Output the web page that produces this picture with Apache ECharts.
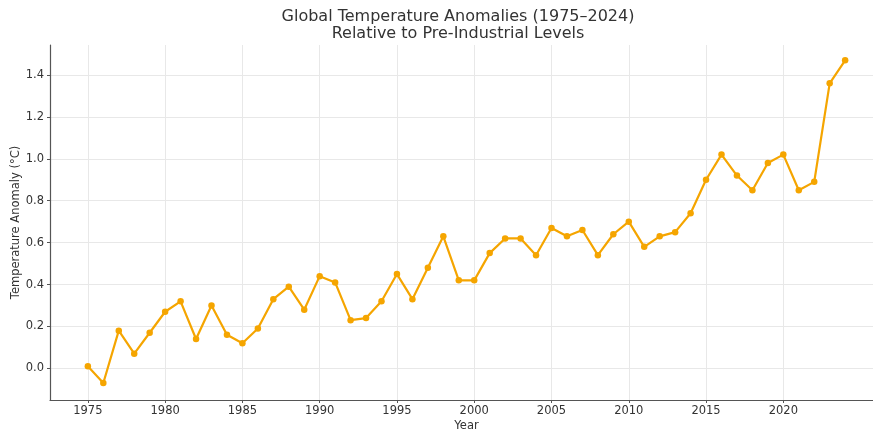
<!DOCTYPE html>
<html>
<head>
<meta charset="utf-8">
<script src="https://cdn.jsdelivr.net/npm/echarts@6/dist/echarts.min.js"></script>
<style>html,body{margin:0;padding:0;background:#fff}#c{width:873px;height:434px}</style>
</head>
<body>
<div id="c"></div>
<script>
const years = [1975,1976,1977,1978,1979,1980,1981,1982,1983,1984,1985,1986,1987,1988,1989,1990,1991,1992,1993,1994,1995,1996,1997,1998,1999,2000,2001,2002,2003,2004,2005,2006,2007,2008,2009,2010,2011,2012,2013,2014,2015,2016,2017,2018,2019,2020,2021,2022,2023,2024];
const anomalies = [0.01,-0.07,0.18,0.07,0.17,0.27,0.32,0.14,0.30,0.16,0.12,0.19,0.33,0.39,0.28,0.44,0.41,0.23,0.24,0.32,0.45,0.33,0.48,0.63,0.42,0.42,0.55,0.62,0.62,0.54,0.67,0.63,0.66,0.54,0.64,0.70,0.58,0.63,0.65,0.74,0.90,1.02,0.92,0.85,0.98,1.02,0.85,0.89,1.36,1.47];
const xTicks = [1975,1980,1985,1990,1995,2000,2005,2010,2015,2020];
const yTicks = [0,0.2,0.4,0.6,0.8,1.0,1.2,1.4];

const chart = echarts.init(document.getElementById('c'));
const font = 'DejaVu Sans';
chart.setOption({
  animation: false,
  title: {
    text: 'Global Temperature Anomalies (1975\u20132024)\nRelative to Pre-Industrial Levels',
    left: 453, top: 3, textAlign: 'center',
    textStyle: {fontFamily: font, fontSize: 16, fontWeight: 'normal', color: '#333', lineHeight: 17}
  },
  grid: {left: 50, right: -10, top: 45, bottom: 34, outerBoundsMode: 'none', containLabel: false},
  xAxis: {
    type: 'value', min: 1972.55, max: 2026.45,
    name: 'Year', nameLocation: 'middle', nameGap: 20, nameMoveOverlap: false,
    nameTextStyle: {fontFamily: font, fontSize: 11.5, color: '#333'},
    axisLine: {onZero: false, lineStyle: {color: '#555', width: 1.2}},
    axisTick: {show: true, length: 3, lineStyle: {color: '#555'}, customValues: xTicks},
    axisLabel: {fontFamily: font, fontSize: 11.5, color: '#333', margin: 5, customValues: xTicks, formatter: v => String(v)},
    splitLine: {show: true, lineStyle: {color: '#e8e8e8', width: 1}}
  },
  yAxis: {
    type: 'value', min: -0.151, max: 1.543,
    name: 'Temperature Anomaly (\u00b0C)', nameLocation: 'middle', nameGap: 28, nameRotate: 90, nameMoveOverlap: false,
    nameTextStyle: {fontFamily: font, fontSize: 11.5, color: '#333'},
    axisLine: {show: true, onZero: false, lineStyle: {color: '#555', width: 1.2}},
    axisTick: {show: true, length: 3, lineStyle: {color: '#555'}, customValues: yTicks},
    axisLabel: {fontFamily: font, fontSize: 11.5, color: '#333', margin: 6, customValues: yTicks, formatter: v => v.toFixed(1)},
    splitLine: {show: true, lineStyle: {color: '#e8e8e8', width: 1}}
  },
  series: [{
    type: 'line',
    data: years.map((y, i) => [y, anomalies[i]]),
    symbol: 'circle', symbolSize: 6.5,
    lineStyle: {color: '#f5a500', width: 2.2},
    itemStyle: {color: '#f5a500'}
  }]
});
</script>
</body>
</html>
